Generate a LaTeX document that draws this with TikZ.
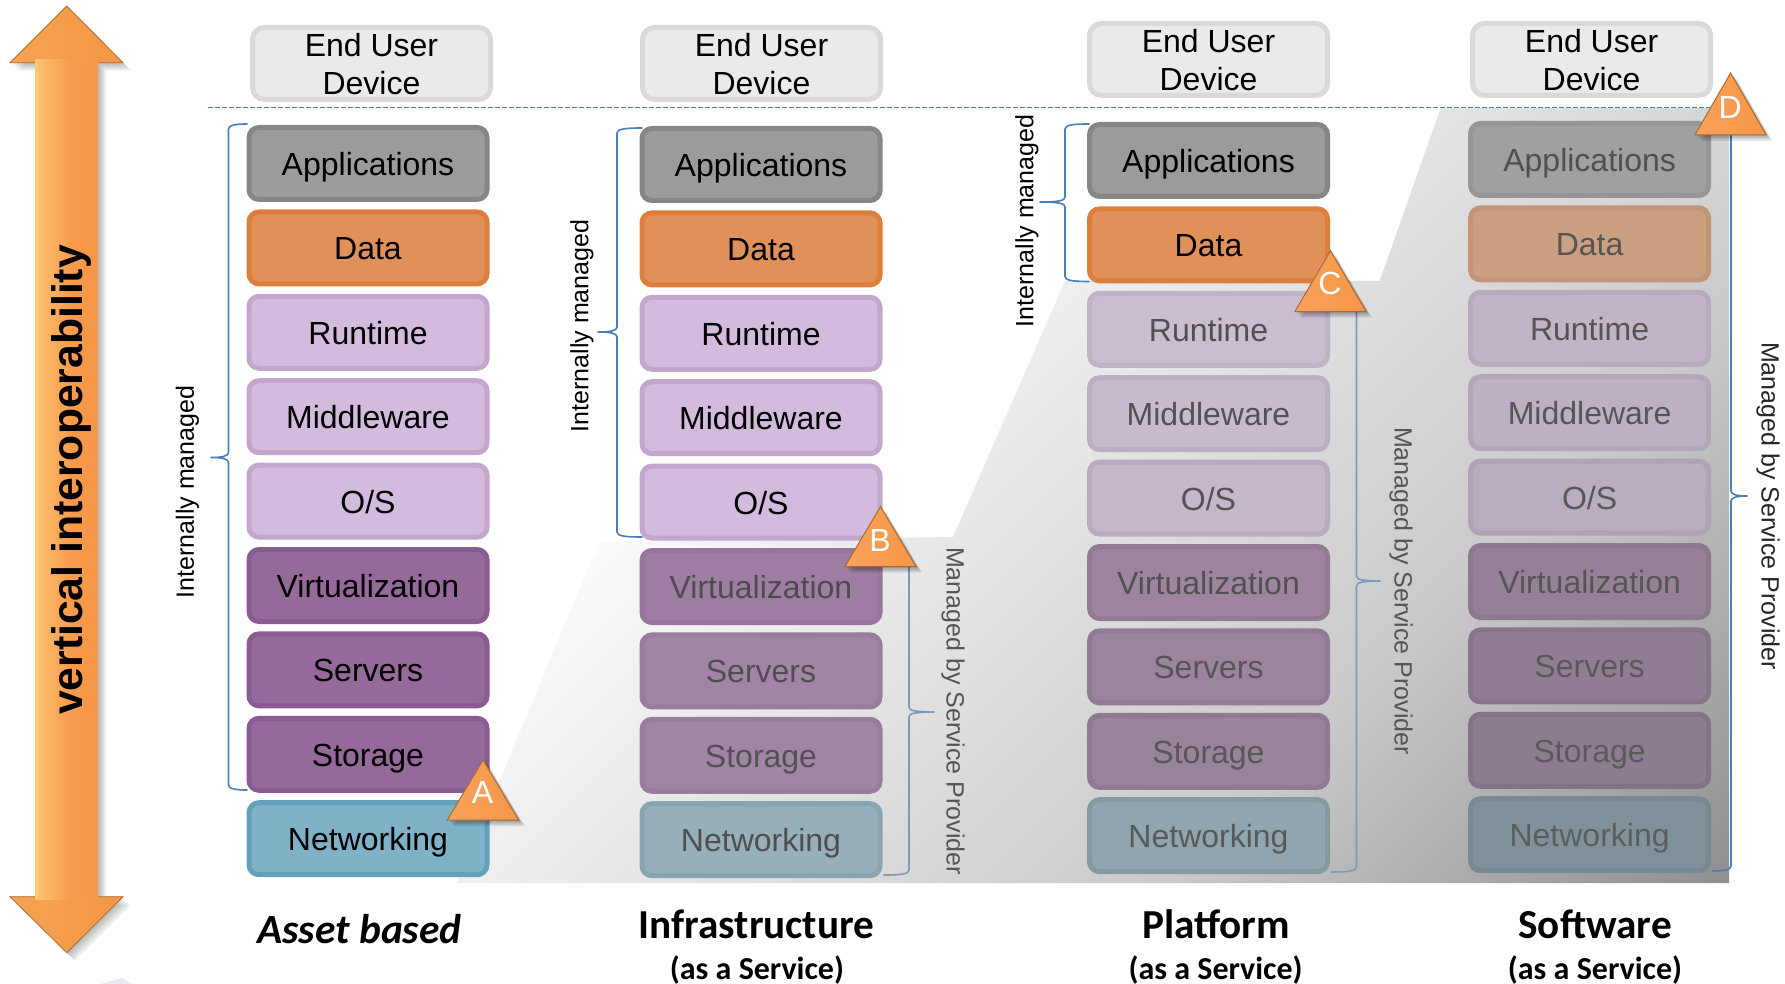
\documentclass[tikz,border=0pt]{standalone}
\usepackage{fontspec}
\setmainfont{Liberation Sans}
\newfontfamily\titlefont{Carlito}
\usetikzlibrary{calc}
\newcommand{\boxcol}[4]{\definecolor{#1}{HTML}{#2}\definecolor{#1b}{HTML}{#3}\definecolor{#1t}{HTML}{#4}}
\boxcol{dev}{EAEAEA}{D9D9D9}{000000}
\boxcol{app}{9B9B9B}{868686}{000000}
\boxcol{dat}{E09059}{DD7E3C}{000000}
\boxcol{lil}{D2BBDD}{C2A6CB}{000000}
\boxcol{pur}{96699B}{8A5A93}{000000}
\boxcol{blu}{80B2C7}{62A0BC}{000000}
% dimmed, column 2
\boxcol{bv}{9E7DA3}{97759C}{4C4C4C}
\boxcol{bs}{A285A6}{9A7D9E}{4F4F4F}
\boxcol{bt}{A285A6}{9A7D9E}{515151}
\boxcol{bn}{97AFBB}{8AA5B2}{4F4F4F}
% dimmed, column 3
\boxcol{cr}{CABDD0}{C0B2C7}{505050}
\boxcol{cm}{C8BACD}{BDAFC3}{525252}
\boxcol{co}{C5B6CA}{B9AABF}{535353}
\boxcol{cv}{9F849F}{957A96}{505050}
\boxcol{cs}{9C849F}{937B96}{555555}
\boxcol{ct}{98839B}{8F7A92}{575757}
\boxcol{cn}{8FA5AF}{86999F}{595959}
% dimmed, column 4
\boxcol{dp}{A0A0A0}{969696}{505050}
\boxcol{dd}{CBA080}{C39478}{555555}
\boxcol{dr}{C1B4C6}{B7AABC}{545454}
\boxcol{dm}{BDB0C3}{B3A6B9}{565656}
\boxcol{do}{B9ADC0}{B0A3B6}{585858}
\boxcol{dv}{958098}{8C7890}{555555}
\boxcol{ds}{917D93}{88758A}{585858}
\boxcol{dc}{8D7B8F}{847286}{5A5A5A}
\boxcol{dn}{7F929B}{778A93}{5C5C5C}
\definecolor{bracecol}{HTML}{4A7EBB}
\definecolor{bracedim}{HTML}{7C9BB8}
\definecolor{labdim}{HTML}{555555}
\definecolor{triorange}{HTML}{F79646}
\definecolor{triedge}{HTML}{A86C34}
\definecolor{ghost}{HTML}{E9E9F5}
\definecolor{headlight}{HTML}{F8A452}
\definecolor{headdark}{HTML}{F39545}
\pgfdeclareverticalshading{managedgrad}{100bp}{color(0bp)=(black!2); color(37.8bp)=(black!2); color(62.5bp)=(black!21); color(77.9bp)=(black!44); color(100bp)=(black!56)}
\pgfdeclarehorizontalshading{shaftgrad}{100bp}{rgb(0bp)=(.95,.63,.29); rgb(2bp)=(.97,.72,.36); rgb(8bp)=(1,.90,.55); rgb(16bp)=(1,.87,.51); rgb(34bp)=(.98,.71,.39); rgb(55bp)=(.97,.60,.29); rgb(95bp)=(.97,.59,.27); rgb(100bp)=(.88,.54,.25)}
\tikzset{
  stackbox/.style={rounded corners=10pt,line width=5pt,minimum width=238pt,minimum height=72pt,inner sep=0pt,
    font=\fontsize{32}{38}\selectfont,text height=24pt,text depth=0pt,align=center,fill=#1,draw=#1b,text=#1t},
  devbox/.style={rounded corners=12pt,line width=5pt,minimum width=238pt,minimum height=72pt,inner sep=0pt,
    fill=dev,draw=devb},
  devtext/.style={font=\fontsize{32}{38}\selectfont,align=center,text=black,inner sep=0pt},
  bracepath/.style={line width=1.6pt,draw=bracecol,line cap=round,line join=round},
  sidelab/.style={font=\fontsize{25}{30}\selectfont,inner sep=0pt},
  coltitle/.style={font=\titlefont\bfseries\fontsize{41.2}{48}\selectfont,inner sep=0pt},
  colsub/.style={font=\titlefont\bfseries\fontsize{32}{38}\selectfont,inner sep=0pt},
  triletter/.style={font=\fontsize{32}{36}\selectfont,text=white,inner sep=0pt},
}
% apex x, apex y, half width, base y, letter y, name, letter
\newcommand{\triangletag}[7]{%
  \foreach \d in {1.5,3,4.5,6}{\fill[black,opacity=.09] (#1+\d,#2+\d) -- (#1+#3+\d,#4+\d) -- (#1-#3+\d,#4+\d) -- cycle;}
  \draw[line width=1pt,draw=triedge,left color=triorange!88!white,right color=triorange] (#1,#2) -- (#1+#3,#4) -- (#1-#3,#4) -- cycle;
  \node[triletter] (#6) at (#1-0.5,#5) {#7};}
% left brace: x of spine, x of tip, x of ends, top, mid, bottom
\newcommand{\leftbrace}[7][bracepath]{%
  \draw[#1] (#4,#5) .. controls (#2+8,#5) and (#2,#5+1) .. (#2,#5+5) -- (#2,#6-5)
    .. controls (#2,#6-1.5) and (#2-6,#6) .. (#3,#6) .. controls (#2-6,#6) and (#2,#6+1.5) .. (#2,#6+5)
    -- (#2,#7-5) .. controls (#2,#7-1) and (#2+8,#7) .. (#4,#7);}
\newcommand{\rightbrace}[7][bracepath]{%
  \draw[#1] (#2,#5) -- (#2,#6-5)
    .. controls (#2,#6-1.5) and (#2+6,#6) .. (#3,#6) .. controls (#2+6,#6) and (#2,#6+1.5) .. (#2,#6+5)
    -- (#2,#7-5) .. controls (#2,#7-1) and (#2-8,#7) .. (#4,#7);}
\begin{document}
\begin{tikzpicture}[x=1pt,y=-1pt]
\useasboundingbox (0,0) rectangle (1785,984);
% faint shape at the bottom edge
\fill[ghost] (100,984) -- (122,978) -- (132,984) -- cycle;
% managed-by-provider region
\begin{scope}
  \clip (457,883) -- (599,542) -- (953,537) -- (1065,281) -- (1379.6,281) -- (1440.7,108) -- (1729,108) -- (1729,883) -- cycle;
  \shade[shading=managedgrad,shading angle=225] (445,-155) rectangle (1745,1145);
\end{scope}
% vertical arrow
\foreach \d in {2,4,6,8}{\fill[black,opacity=.07] (66.7+\d,6+\d) -- (123+\d,62.7+\d) -- (98+\d,62.7+\d) -- (98+\d,896.7+\d) -- (123+\d,896.7+\d) -- (66.8+\d,952.7+\d) -- (10+\d,896.7+\d) -- (35.5+\d,896.7+\d) -- (35.5+\d,62.7+\d) -- (10+\d,62.7+\d) -- cycle;}
\draw[line width=.8pt,draw=triedge,left color=headlight,right color=headdark] (66.7,6) -- (123,62.7) -- (98,62.7) -- (35.5,62.7) -- (10,62.7) -- cycle;
\draw[line width=.8pt,draw=triedge,left color=headlight,right color=headdark] (66.8,952.7) -- (10,896.7) -- (35.5,896.7) -- (98,896.7) -- (123,896.7) -- cycle;
\shade[shading=shaftgrad] (35.5,60) rectangle (98,899);
\node[rotate=90,inner sep=0pt,font=\bfseries\fontsize{42.7}{48}\selectfont] (vio) at (71,480) {vertical interoperability};
% stacks
\foreach \i/\n/\lab/\cc in {0/app/Applications/app,1/dat/Data/dat,2/run/Runtime/lil,3/mid/Middleware/lil,4/os/O\slash S/lil,5/vir/Virtualization/pur,6/ser/Servers/pur,7/sto/Storage/pur,8/net/Networking/blu}
  \node[stackbox=\cc] (a\n) at (368,163.5+84.4*\i) {\lab};
\foreach \i/\n/\lab/\cc in {0/app/Applications/app,1/dat/Data/dat,2/run/Runtime/lil,3/mid/Middleware/lil,4/os/O\slash S/lil,5/vir/Virtualization/bv,6/ser/Servers/bs,7/sto/Storage/bt,8/net/Networking/bn}
  \node[stackbox=\cc] (b\n) at (761,164.5+84.4*\i) {\lab};
\foreach \i/\n/\lab/\cc in {0/app/Applications/app,1/dat/Data/dat,2/run/Runtime/cr,3/mid/Middleware/cm,4/os/O\slash S/co,5/vir/Virtualization/cv,6/ser/Servers/cs,7/sto/Storage/ct,8/net/Networking/cn}
  \node[stackbox=\cc] (c\n) at (1208.5,160.5+84.4*\i) {\lab};
\foreach \i/\n/\lab/\cc in {0/app/Applications/dp,1/dat/Data/dd,2/run/Runtime/dr,3/mid/Middleware/dm,4/os/O\slash S/do,5/vir/Virtualization/dv,6/ser/Servers/ds,7/sto/Storage/dc,8/net/Networking/dn}
  \node[stackbox=\cc] (d\n) at (1589.6,159.5+84.4*\i) {\lab};
% end user devices
\node[devbox] (adev) at (371.5,63.5) {};
\node[devbox] (bdev) at (761.5,63.5) {};
\node[devbox] (cdev) at (1208.5,59.5) {};
\node[devbox] (ddev) at (1591.6,59.5) {};
\node[devtext] (adevt) at (371.5,64.5) {End User\\Device};
\node[devtext] (bdevt) at (761.5,64.5) {End User\\Device};
\node[devtext] (cdevt) at (1208.5,60.5) {End User\\Device};
\node[devtext] (ddevt) at (1591.6,60.5) {End User\\Device};
% dashed boundary
\coordinate (dashL) at (208,107.5);
\coordinate (dashR) at (1712,107.5);
\draw[line width=1.5pt,draw=bracecol,dash pattern=on 5pt off 2pt] (dashL) -- (dashR);
% braces
\leftbrace{228.5}{211}{247}{124}{457.5}{790}
\leftbrace{617}{598}{642}{128}{332}{537}
\leftbrace{1065}{1040}{1089}{124}{202}{281.5}
\rightbrace[bracepath,draw=bracedim]{909}{934}{884}{560}{712}{875}
\rightbrace[bracepath,draw=bracedim]{1356.5}{1380}{1331.5}{305}{581}{872}
\rightbrace{1731}{1747}{1712.6}{130}{496}{871}
% side labels
\node[sidelab,rotate=90] (la) at (187.5,492) {Internally managed};
\node[sidelab,rotate=90] (lb) at (582,326) {Internally managed};
\node[sidelab,rotate=90] (lc) at (1027,221) {Internally managed};
\node[sidelab,rotate=-90,text=labdim] (rb) at (953,711) {Managed by Service Provider};
\node[sidelab,rotate=-90,text=labdim] (rc) at (1401,591) {Managed by Service Provider};
\node[sidelab,rotate=-90,text=black!85] (rd) at (1768,506) {Managed by Service Provider};
% triangles
\triangletag{483}{760}{35.7}{820}{792}{tA}{A}
\triangletag{880.5}{506.7}{35.7}{566.7}{540}{tB}{B}
\triangletag{1330.5}{250.7}{35.7}{311.7}{283}{tC}{C}
\triangletag{1730.6}{73}{35.7}{135}{107.7}{tD}{D}
% titles
\node[coltitle,font=\titlefont\bfseries\itshape\fontsize{41.5}{48}\selectfont] (ta) at (359.5,929) {Asset based};
\node[coltitle] (tb) at (756.5,924) {Infrastructure};
\node[colsub] (sb) at (757,970) {(as a Service)};
\node[coltitle] (tc) at (1216,924) {Platform};
\node[colsub] (sc) at (1215.6,970) {(as a Service)};
\node[coltitle] (td) at (1595,924) {Software};
\node[colsub] (sd) at (1595,970) {(as a Service)};
\end{tikzpicture}
\end{document}
